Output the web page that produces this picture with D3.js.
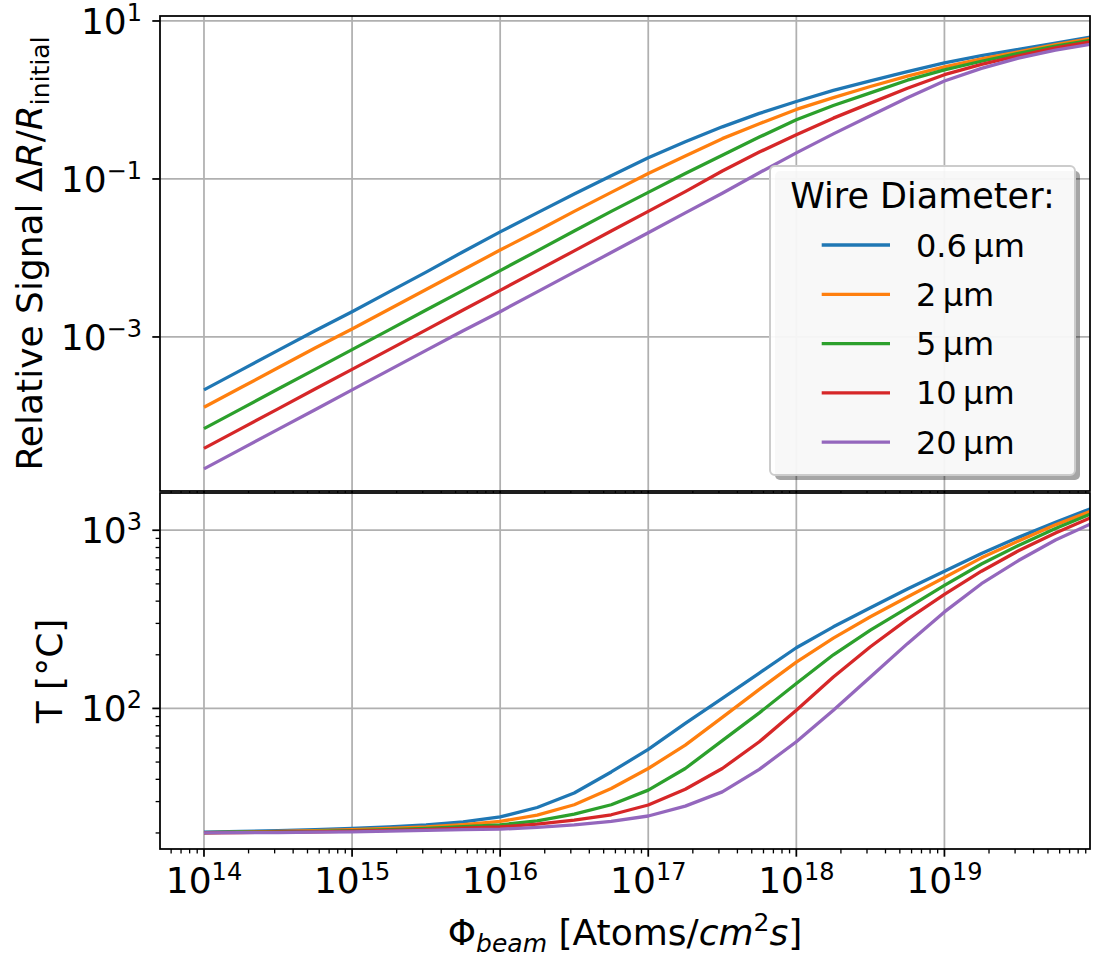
<!DOCTYPE html>
<html>
<head>
<meta charset="utf-8">
<script src="https://cdn.jsdelivr.net/npm/d3@7"></script>
<style>
  body { margin: 0; background: #fff; }
  svg { display: block; font-family: "DejaVu Sans", sans-serif; }
</style>
</head>
<body>
<div id="chart"></div>
<script>
// beam flux exponents (Atoms/cm^2 s = 10^e)
const fluxExponents = [14.00, 14.25, 14.50, 14.75, 15.00, 15.25, 15.50, 15.75, 16.00, 16.25, 16.50, 16.75,
                       17.00, 17.25, 17.50, 17.75, 18.00, 18.25, 18.50, 18.75, 19.00, 19.25, 19.50, 19.75, 20.00];

const diameters = ['0.6', '2', '5', '10', '20'];
const colors = ['#1f77b4', '#ff7f0e', '#2ca02c', '#d62728', '#9467bd'];

// relative signal dR/R_initial
const signal06 = [2.14e-4, 3.80e-4, 6.76e-4, 1.20e-3, 2.09e-3, 3.72e-3, 6.61e-3, 1.20e-2, 2.14e-2, 3.72e-2, 6.46e-2, 0.110,
                  0.186, 0.295, 0.457, 0.676, 0.955, 1.32, 1.74, 2.29, 2.95, 3.63, 4.37, 5.25, 6.31];
const signal2  = [1.29e-4, 2.29e-4, 4.07e-4, 7.24e-4, 1.26e-3, 2.24e-3, 3.98e-3, 7.08e-3, 1.26e-2, 2.19e-2, 3.89e-2, 6.76e-2,
                  0.117, 0.195, 0.324, 0.501, 0.759, 1.07, 1.48, 2.00, 2.63, 3.31, 4.07, 5.01, 6.03];
const signal5  = [6.92e-5, 1.23e-4, 2.19e-4, 3.89e-4, 6.92e-4, 1.23e-3, 2.19e-3, 3.89e-3, 6.92e-3, 1.23e-2, 2.19e-2, 3.89e-2,
                  6.76e-2, 0.117, 0.200, 0.339, 0.562, 0.851, 1.23, 1.78, 2.40, 3.09, 3.89, 4.79, 5.75];
const signal10 = [3.89e-5, 6.92e-5, 1.23e-4, 2.19e-4, 3.89e-4, 6.92e-4, 1.23e-3, 2.19e-3, 3.89e-3, 6.92e-3, 1.23e-2, 2.19e-2,
                  3.89e-2, 6.92e-2, 0.126, 0.219, 0.363, 0.589, 0.912, 1.41, 2.09, 2.82, 3.63, 4.57, 5.50];
const signal20 = [2.14e-5, 3.80e-5, 6.76e-5, 1.20e-4, 2.14e-4, 3.80e-4, 6.76e-4, 1.20e-3, 2.09e-3, 3.72e-3, 6.61e-3, 1.17e-2,
                  2.09e-2, 3.72e-2, 6.61e-2, 0.120, 0.214, 0.372, 0.631, 1.07, 1.74, 2.51, 3.39, 4.27, 5.13];

// wire temperature in degC
const temp06 = [20.2, 20.4, 20.6, 20.9, 21.2, 21.6, 22.2, 23.1, 24.6, 27.8, 33.5, 44.0,
                58.9, 82.4, 114, 158, 219, 287, 367, 468, 589, 741, 912, 1109, 1334];
const temp2  = [20.1, 20.2, 20.4, 20.6, 20.9, 21.2, 21.6, 22.3, 23.2, 25.2, 28.8, 35.5,
                46.0, 62.2, 89.1, 128, 182, 248, 327, 422, 543, 700, 871, 1072, 1288];
const temp5  = [20.1, 20.2, 20.3, 20.4, 20.6, 20.9, 21.2, 21.7, 22.2, 23.4, 25.5, 28.8,
                34.8, 46.0, 66.0, 94.4, 138, 200, 275, 367, 490, 646, 822, 1023, 1245];
const temp10 = [20.0, 20.1, 20.2, 20.3, 20.5, 20.7, 20.9, 21.3, 21.6, 22.4, 23.6, 25.3,
                28.7, 35.2, 46.0, 65.0, 97.7, 150, 222, 316, 437, 589, 767, 966, 1189];
const temp20 = [20.0, 20.1, 20.1, 20.2, 20.3, 20.5, 20.7, 20.9, 21.0, 21.5, 22.2, 23.2,
                24.9, 28.3, 34.0, 45.5, 65.0, 97.7, 150, 231, 348, 501, 676, 881, 1096];

const signalSeries = [signal06, signal2, signal5, signal10, signal20];
const tempSeries = [temp06, temp2, temp5, temp10, temp20];

const flux = fluxExponents.map(e => Math.pow(10, e));

const width = 1094, height = 957;
const left = 160, right = 1090;
const top1 = 16, bottom1 = 491;
const top2 = 493, bottom2 = 849;

const svg = d3.select('#chart').append('svg')
    .attr('width', width)
    .attr('height', height);

const x = d3.scaleLog().domain([Math.pow(10, 13.703), Math.pow(10, 19.983)]).range([left, right]);
const ySig = d3.scaleLog().domain([Math.pow(10, -4.95), Math.pow(10, 1.063)]).range([bottom1, top1]);
const yTemp = d3.scaleLog().domain([Math.pow(10, 1.211), Math.pow(10, 3.209)]).range([bottom2, top2]);

const gridColor = '#b0b0b0';
const majorLen = 7.7, minorLen = 4.4;

// minor x ticks
const xMinor = [];
for (let d = 13; d <= 19; d++) {
    for (let m = 2; m <= 9; m++) {
        const v = m * Math.pow(10, d);
        if (v >= x.domain()[0] && v <= x.domain()[1]) xMinor.push(v);
    }
}
const xMajor = [1e14, 1e15, 1e16, 1e17, 1e18, 1e19];

function powLabel(sel, exp) {
    sel.append('tspan').text('10');
    sel.append('tspan').attr('font-size', 24).attr('dy', -13)
        .text(exp < 0 ? '\u2212' + Math.abs(exp) : String(exp));
}

function drawPanel(y0, y1, yScale, yMajor, yMinor, series, id) {
    const g = svg.append('g');
    g.append('rect').attr('x', left).attr('y', y0).attr('width', right - left).attr('height', y1 - y0)
        .attr('fill', '#fff');

    g.append('clipPath').attr('id', id)
        .append('rect').attr('x', left).attr('y', y0).attr('width', right - left).attr('height', y1 - y0);

    // grid
    g.selectAll('.vgrid').data(xMajor).join('line')
        .attr('x1', d => x(d)).attr('x2', d => x(d))
        .attr('y1', y0).attr('y2', y1)
        .attr('stroke', gridColor).attr('stroke-width', 1.76);
    g.selectAll('.hgrid').data(yMajor).join('line')
        .attr('x1', left).attr('x2', right)
        .attr('y1', d => yScale(d)).attr('y2', d => yScale(d))
        .attr('stroke', gridColor).attr('stroke-width', 1.76);

    // lines
    const line = d3.line().x((d, i) => x(flux[i])).y(d => yScale(d));
    g.append('g').attr('clip-path', `url(#${id})`)
        .selectAll('path').data(series).join('path')
        .attr('d', line)
        .attr('fill', 'none')
        .attr('stroke', (d, i) => colors[i])
        .attr('stroke-width', 3.3)
        .attr('stroke-linejoin', 'round');

    // frame
    g.append('rect').attr('x', left).attr('y', y0).attr('width', right - left).attr('height', y1 - y0)
        .attr('fill', 'none').attr('stroke', '#000').attr('stroke-width', 1.76);

    // x ticks
    g.selectAll('.xmaj').data(xMajor).join('line')
        .attr('x1', d => x(d)).attr('x2', d => x(d))
        .attr('y1', y1).attr('y2', y1 + majorLen)
        .attr('stroke', '#000').attr('stroke-width', 1.76);
    g.selectAll('.xmin').data(xMinor).join('line')
        .attr('x1', d => x(d)).attr('x2', d => x(d))
        .attr('y1', y1).attr('y2', y1 + minorLen)
        .attr('stroke', '#000').attr('stroke-width', 1.32);

    // y ticks
    g.selectAll('.ymaj').data(yMajor).join('line')
        .attr('x1', left - majorLen).attr('x2', left)
        .attr('y1', d => yScale(d)).attr('y2', d => yScale(d))
        .attr('stroke', '#000').attr('stroke-width', 1.76);
    g.selectAll('.ymin').data(yMinor).join('line')
        .attr('x1', left - minorLen).attr('x2', left)
        .attr('y1', d => yScale(d)).attr('y2', d => yScale(d))
        .attr('stroke', '#000').attr('stroke-width', 1.32);

    g.selectAll('.ylab').data(yMajor).join('text')
        .attr('x', 142).attr('y', d => yScale(d) + 13)
        .attr('text-anchor', 'end').attr('font-size', 36)
        .each(function(d) { powLabel(d3.select(this), Math.round(Math.log10(d))); });

    return g;
}

// top panel: relative signal
drawPanel(top1, bottom1, ySig, [1e-3, 1e-1, 1e1], [], signalSeries, 'clipTop');

// bottom panel: temperature
const tMinor = [];
[10, 100].forEach(b => { for (let m = 2; m <= 9; m++) tMinor.push(m * b); });
drawPanel(top2, bottom2, yTemp, [1e2, 1e3], tMinor, tempSeries, 'clipBottom');

// x tick labels
svg.selectAll('.xlab').data(xMajor).join('text')
    .attr('x', d => x(d)).attr('y', 893)
    .attr('text-anchor', 'middle').attr('font-size', 36)
    .each(function(d) { powLabel(d3.select(this), Math.round(Math.log10(d))); });

// axis labels
const yl1 = svg.append('text')
    .attr('transform', `translate(42,${(top1 + bottom1) / 2}) rotate(-90)`)
    .attr('text-anchor', 'middle').attr('font-size', 36);
yl1.append('tspan').text('Relative Signal \u0394');
yl1.append('tspan').attr('font-style', 'italic').text('R');
yl1.append('tspan').text('/');
yl1.append('tspan').attr('font-style', 'italic').text('R');
yl1.append('tspan').attr('font-size', 25).attr('dy', 7).text('initial');

svg.append('text')
    .attr('transform', `translate(62,${(top2 + bottom2) / 2}) rotate(-90)`)
    .attr('text-anchor', 'middle').attr('font-size', 36)
    .text('T [\u00b0C]');

const xl = svg.append('text')
    .attr('x', (left + right) / 2).attr('y', 945)
    .attr('text-anchor', 'middle').attr('font-size', 36);
xl.append('tspan').text('\u03a6');
xl.append('tspan').attr('font-size', 25).attr('font-style', 'italic').attr('dy', 7).text('beam');
xl.append('tspan').attr('dy', -7).text(' [Atoms/');
xl.append('tspan').attr('font-style', 'italic').text('cm');
xl.append('tspan').attr('font-size', 25).attr('dy', -14).text('2');
xl.append('tspan').attr('font-style', 'italic').attr('dy', 14).text('s');
xl.append('tspan').text(']');

// legend
const lg = svg.append('g');
const lx = 770, ly = 166, lw = 305, lh = 309;
lg.append('rect').attr('x', lx + 5).attr('y', ly + 5).attr('width', lw).attr('height', lh)
    .attr('rx', 5).attr('fill', '#000').attr('opacity', 0.35);
lg.append('rect').attr('x', lx).attr('y', ly).attr('width', lw).attr('height', lh)
    .attr('rx', 5).attr('fill', '#fff').attr('fill-opacity', 0.92)
    .attr('stroke', '#cccccc').attr('stroke-width', 2);
lg.append('text').attr('x', lx + lw / 2).attr('y', 208)
    .attr('text-anchor', 'middle').attr('font-size', 35).text('Wire Diameter:');
const entry = lg.selectAll('.entry').data(diameters).join('g')
    .attr('transform', (d, i) => `translate(0,${245 + i * 49.3})`);
entry.append('line').attr('x1', 821.7).attr('x2', 890).attr('y1', 0).attr('y2', 0)
    .attr('stroke', (d, i) => colors[i]).attr('stroke-width', 3.3);
entry.append('text').attr('x', 916).attr('y', 11.5).attr('font-size', 32)
    .text(d => d + '\u2009\u00b5m');
</script>
</body>
</html>
